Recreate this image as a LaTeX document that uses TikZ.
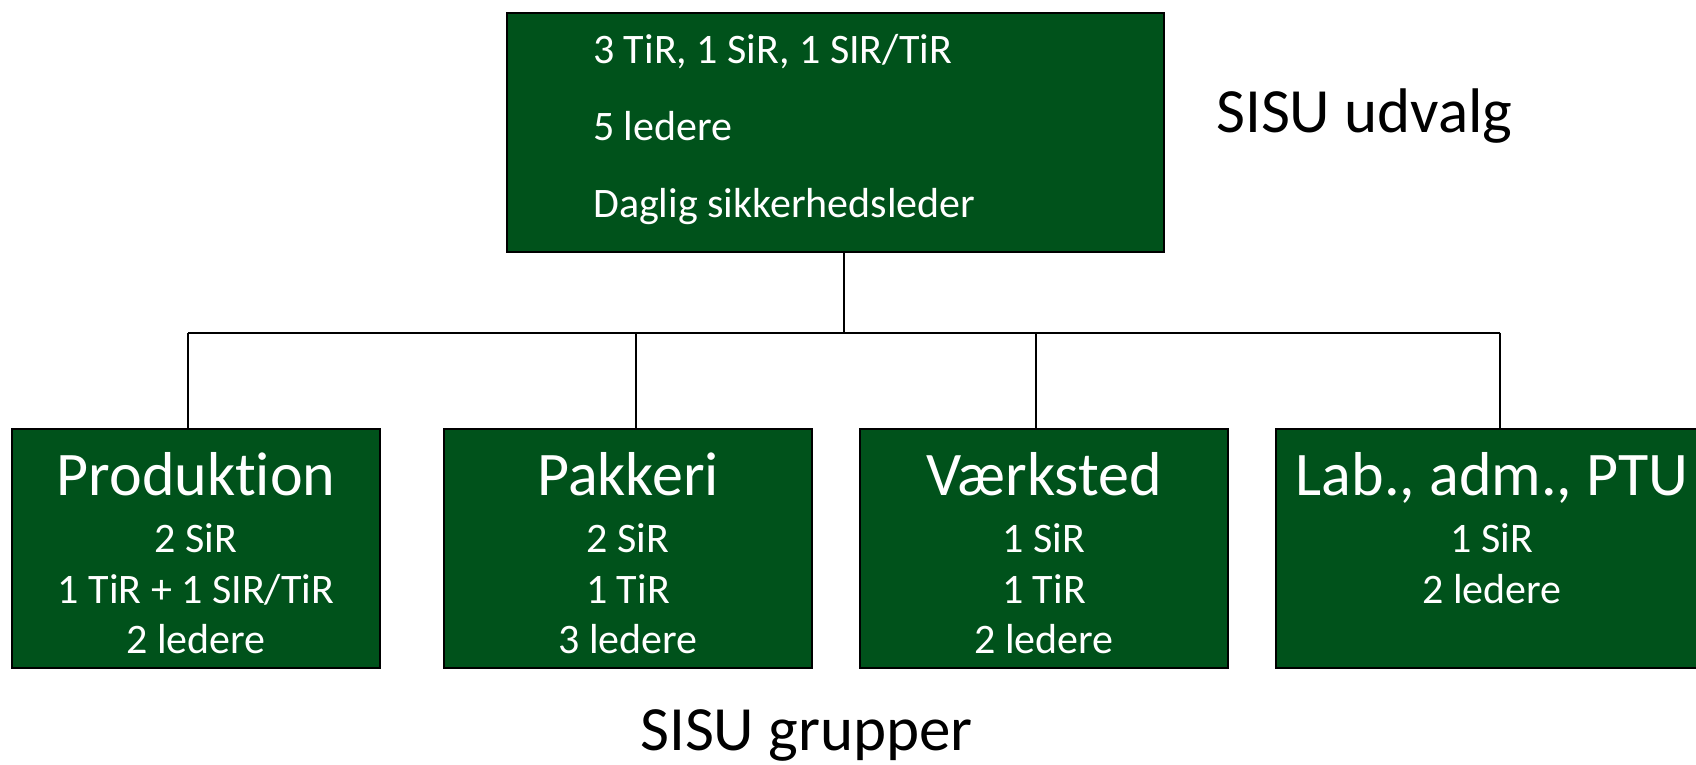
\documentclass[tikz,border=0pt]{standalone}
\usepackage{fontspec}
\setmainfont{Carlito}[Ligatures={NoCommon}]
\definecolor{boxgreen}{RGB}{0,82,27}
\tikzset{
  gbox/.style={draw=black, line width=2.5pt, fill=boxgreen, rectangle, anchor=north west, inner sep=0pt, outer sep=0pt},
  conn/.style={draw=black, line width=2pt},
  smalltxt/.style={text=white, font=\fontsize{42}{50}\selectfont, inner sep=0pt},
  bigtxt/.style={text=white, font=\fontsize{62}{74}\selectfont, inner sep=0pt, anchor=base},
  label/.style={text=black, font=\fontsize{63}{75}\selectfont, inner sep=0pt, anchor=base west}
}
\begin{document}
\begin{tikzpicture}[x=1pt,y=-1pt]
\useasboundingbox (0,0) rectangle (1696,764);
\clip (0,0) rectangle (1696,764);
% boxes
\node[gbox, minimum width=657pt, minimum height=239pt] (top) at (507,13) {};
\node[gbox, minimum width=368pt, minimum height=239pt] (b1) at (12,429) {};
\node[gbox, minimum width=368pt, minimum height=239pt] (b2) at (444,429) {};
\node[gbox, minimum width=368pt, minimum height=239pt] (b3) at (860,429) {};
\node[gbox, minimum width=432pt, minimum height=239pt] (b4) at (1276,429) {};
% connector coordinates
\coordinate (hub) at (844,332.5);
\coordinate (j1) at (188,332.5);
\coordinate (j2) at (636,332.5);
\coordinate (j3) at (1036,332.5);
\coordinate (j4) at (1500,332.5);
\draw[conn] (top.south -| hub) -- (hub);
\draw[conn] (j1) -- (j4);
\draw[conn] (j1) -- (j1 |- b1.north);
\draw[conn] (j2) -- (j2 |- b2.north);
\draw[conn] (j3) -- (j3 |- b3.north);
\draw[conn] (j4) -- (j4 |- b4.north);
% top box text
\node[smalltxt, anchor=base west] (t1) at (593,63) {3 TiR, 1 SiR, 1 SIR/TiR};
\node[smalltxt, anchor=base west] (t2) at (593,140) {5 ledere};
\node[smalltxt, anchor=base west] (t3) at (593,217) {Daglig sikkerhedsleder};
% box 1
\node[bigtxt] (p0) at (196,495) {Produkt\kern0pt ion};
\node[smalltxt, anchor=base] (p1) at (196,552) {2 SiR};
\node[smalltxt, anchor=base] (p2) at (196,603) {1 TiR + 1 SIR/TiR};
\node[smalltxt, anchor=base] (p3) at (196,653) {2 ledere};
% box 2
\node[bigtxt] (k0) at (628,495) {Pakkeri};
\node[smalltxt, anchor=base] (k1) at (628,552) {2 SiR};
\node[smalltxt, anchor=base] (k2) at (628,603) {1 TiR};
\node[smalltxt, anchor=base] (k3) at (628,653) {3 ledere};
% box 3
\node[bigtxt] (v0) at (1044,495) {Værksted};
\node[smalltxt, anchor=base] (v1) at (1044,552) {1 SiR};
\node[smalltxt, anchor=base] (v2) at (1044,603) {1 TiR};
\node[smalltxt, anchor=base] (v3) at (1044,653) {2 ledere};
% box 4
\node[bigtxt] (l0) at (1492,495) {Lab., adm., PTU};
\node[smalltxt, anchor=base] (l1) at (1492,552) {1 SiR};
\node[smalltxt, anchor=base] (l2) at (1492,603) {2 ledere};
% labels
\node[label] (udv) at (1216,132) {SISU udvalg};
\node[label] (grp) at (640,750) {SISU grupper};
\end{tikzpicture}
\end{document}
